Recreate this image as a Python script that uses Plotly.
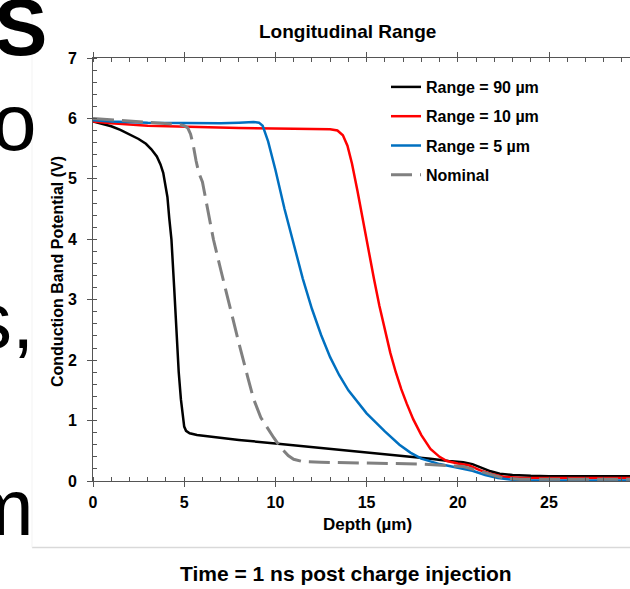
import plotly.graph_objects as go

# ---------------- data ----------------
black_x = [0, 0.5, 1.0, 1.5, 2.0, 2.5, 2.9, 3.2, 3.5, 3.7, 3.85, 3.97, 4.08, 4.18, 4.3, 4.45, 4.58,
           4.7, 4.82, 4.92, 5.0, 5.1, 5.3, 5.7, 6.5, 8.0, 10.0, 12.0, 14.0, 15.7, 17.0, 18.5, 19.5,
           20.3, 20.8, 21.3, 21.8, 22.3, 23.0, 24.0, 25.0, 29.44]
black_y = [5.95, 5.91, 5.87, 5.81, 5.74, 5.66, 5.58, 5.49, 5.37, 5.24, 5.10, 4.90, 4.70, 4.35, 4.0, 3.2, 2.4,
           1.8, 1.35, 1.05, 0.90, 0.83, 0.79, 0.76, 0.73, 0.68, 0.62, 0.56, 0.51, 0.46, 0.42, 0.37, 0.33,
           0.31, 0.28, 0.22, 0.16, 0.12, 0.10, 0.085, 0.08, 0.08]

red_x = [0, 1, 3, 5, 8, 11, 13, 13.4, 13.7, 13.95, 14.2, 14.5, 14.8, 15.1, 15.4, 15.7, 16.0, 16.3, 16.6,
         16.9, 17.2, 17.56, 18.0, 18.5, 19.0, 19.4, 20.0, 20.6, 21.2, 21.8, 22.5, 23.5, 29.44]
red_y = [5.95, 5.92, 5.88, 5.86, 5.84, 5.83, 5.82, 5.80, 5.72, 5.55, 5.25, 4.8, 4.3, 3.8, 3.35, 2.9, 2.5,
         2.12, 1.8, 1.52, 1.28, 1.02, 0.76, 0.53, 0.40, 0.33, 0.29, 0.26, 0.18, 0.12, 0.07, 0.05, 0.05]

blue_x = [0, 1, 3, 5, 7, 8, 8.8, 9.1, 9.3, 9.6, 10.0, 10.5, 11.0, 11.5, 12.0, 12.5, 13.0, 13.5, 14.0,
          14.5, 15.0, 15.5, 16.0, 16.8, 17.4, 18.0, 19.0, 20.0, 20.8, 21.5, 22.2, 23.0, 24.0, 29.44]
blue_y = [5.97, 5.95, 5.93, 5.92, 5.92, 5.93, 5.94, 5.93, 5.88, 5.62, 5.15, 4.5, 3.9, 3.35, 2.85, 2.42,
          2.05, 1.75, 1.5, 1.3, 1.12, 0.97, 0.82, 0.60, 0.47, 0.37, 0.28, 0.22, 0.17, 0.10, 0.05, 0.02,
          0.01, 0.01]

gray_x = [0, 1, 2, 3, 4, 4.7, 5.0, 5.2, 5.35, 5.5, 5.65, 5.8, 6.0, 6.3, 6.6, 7.0, 7.5, 8.0, 8.5, 8.8,
          9.2, 9.6, 9.9, 10.3, 10.7, 11.0, 11.5, 12.5, 15.0, 18.0, 20.3, 21.0, 21.8, 22.5, 23.4, 25.0, 29.44]
gray_y = [6.0, 5.98, 5.96, 5.94, 5.92, 5.90, 5.88, 5.84, 5.74, 5.55, 5.30, 5.10, 4.95, 4.45, 4.0, 3.5,
          2.88, 2.28, 1.70, 1.36, 1.05, 0.85, 0.72, 0.55, 0.42, 0.36, 0.32, 0.31, 0.30, 0.28, 0.24, 0.18,
          0.10, 0.05, 0.03, 0.03, 0.03]

names = ["Range = 90 µm", "Range = 10 µm", "Range = 5 µm", "Nominal"]
x_ticks = [0, 5, 10, 15, 20, 25]
y_ticks = [0, 1, 2, 3, 4, 5, 6, 7]

FONT = "Liberation Sans, Arial, sans-serif"
L, T, W, H = 93, 58, 630, 589
PW, PH = W - L, 481 - T


def px(x):
    return (x - L) / PW


def py(y):
    return (481 - y) / PH


fig = go.Figure()
series = [
    (black_x, black_y, "#000000", 2.5, "solid"),
    (red_x, red_y, "#ff0000", 2.5, "solid"),
    (blue_x, blue_y, "#0070c0", 2.5, "solid"),
    (gray_x, gray_y, "#808080", 3, "21px,8px"),
]
for i, (xs, ys, c, w, d) in enumerate(series):
    fig.add_trace(go.Scatter(x=xs, y=ys, mode="lines", name=names[i], legendgroup=f"g{i}",
                             line=dict(color=c, width=w, dash=d)))

axcol = "#555555"
fig.update_xaxes(range=[0, 29.44], tickvals=x_ticks, ticks="outside", ticklen=5, tickcolor=axcol,
                 showline=True, linecolor=axcol, linewidth=1, mirror="ticks", showgrid=False,
                 zeroline=False, ticklabelstandoff=2,
                 tickfont=dict(family=FONT, size=16, color="#000", weight="bold"),
                 minor=dict(dtick=1, tick0=0, ticks="inside", ticklen=4, tickcolor=axcol, showgrid=False))
fig.update_yaxes(range=[0, 7], tickvals=y_ticks, ticks="outside", ticklen=5, tickcolor=axcol,
                 showline=True, linecolor=axcol, linewidth=1, showgrid=False, zeroline=False,
                 ticklabelstandoff=7,
                 tickfont=dict(family=FONT, size=16, color="#000", weight="bold"),
                 minor=dict(dtick=0.2, tick0=0, ticks="inside", ticklen=4, tickcolor=axcol, showgrid=False))


def label(text, x, y, size, angle=0, weight="bold", xanchor="center"):
    return dict(text=text, x=px(x), y=py(y), xref="paper", yref="paper", xanchor=xanchor,
                yanchor="middle", showarrow=False, textangle=angle,
                font=dict(family=FONT, size=size, color="#000", weight=weight))


ann = [
    label("Longitudinal Range", 347, 31, 19),
    label("Conduction Band Potential (V)", 57, 272, 16, angle=-90),
    label("Depth (µm)", 367, 524, 17),
    label("Time = 1 ns post charge injection", 345.5, 573, 21),
]
# slide text fragments at the left
for txt, xr, yc, size, wt in [("S", 49, 27, 80, "bold"), ("o", 39, 122, 80, "normal"),
                              ("s,", 36, 320, 80, "normal"), ("m", 36, 507, 80, "normal")]:
    ann.append(label(txt, xr, yc, size, weight=wt, xanchor="right"))

shapes = [
    dict(type="line", xref="paper", yref="paper", x0=px(32), x1=px(630), y0=py(547.5), y1=py(547.5),
         line=dict(color="#d9d9d9", width=1.5)),
    dict(type="line", xref="paper", yref="paper", x0=px(32), x1=px(32), y0=py(10), y1=py(547.5),
         line=dict(color="#f3f3f3", width=1)),
]

fig.update_layout(
    width=W, height=H, autosize=False,
    margin=dict(l=L, r=0, t=T, b=H - 481, pad=0),
    plot_bgcolor="white", paper_bgcolor="white",
    annotations=ann, shapes=shapes,
    showlegend=True,
    legend=dict(x=px(386), y=py(70), xanchor="left", yanchor="top", bgcolor="rgba(0,0,0,0)",
                tracegroupgap=5.5, font=dict(family=FONT, size=16, color="#000", weight="bold")),
)

fig.write_html("out.html", config={"displayModeBar": False},
               post_script="document.body.style.margin='0px';")
